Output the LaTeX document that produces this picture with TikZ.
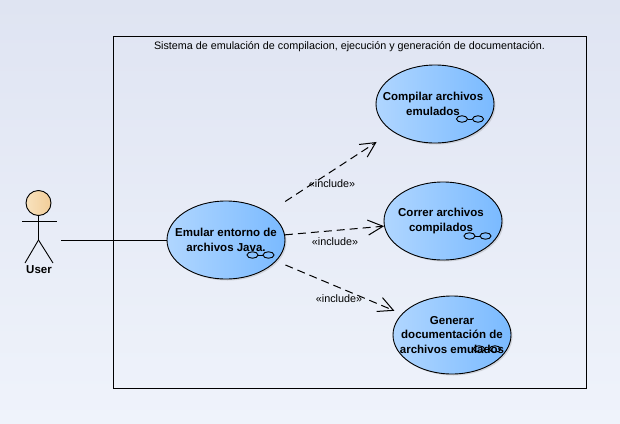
\documentclass[tikz,border=0pt]{standalone}
\usepackage{fontspec}
\setmainfont{Liberation Sans}
\usetikzlibrary{arrows.meta,positioning,shapes.geometric,shadows}

\definecolor{bgtop}{HTML}{DFE4F2}
\definecolor{bgbot}{HTML}{EFF3FB}
\definecolor{ucleft}{HTML}{B0D6FF}
\definecolor{ucmid}{HTML}{B8DBFF}
\definecolor{ucright}{HTML}{7ABAFF}
\definecolor{headleft}{HTML}{F8E2BE}
\definecolor{headright}{HTML}{F2CD98}

% small linked-ovals mark of a use case
\newcommand{\ucmark}[3]{%
  \node[markov] (#1a) at ([shift={(#2-8,#3)}]#1) {};
  \node[markov] (#1b) at ([shift={(#2+8,#3)}]#1) {};
  \draw[line width=0.9pt] (#1a) -- (#1b);
}

\begin{document}
\begin{tikzpicture}[x=1pt,y=-1pt,>={Straight Barb[length=15pt,width=15pt]},
  uc/.style={ellipse,draw,line width=0.9pt,minimum width=118pt,minimum height=78pt,inner sep=0pt,
    left color=ucleft,middle color=ucmid,right color=ucright,
    drop shadow={shadow xshift=1.5pt,shadow yshift=-1.5pt,opacity=0.25}},
  uctext/.style={align=center,inner sep=0pt,font=\fontsize{11.5}{14.6}\selectfont\bfseries},
  markov/.style={ellipse,draw,line width=0.9pt,minimum width=11pt,minimum height=6.5pt,inner sep=0pt},
  dep/.style={->,dashed,dash pattern=on 8pt off 5pt,line width=1pt},
  inc/.style={font=\fontsize{10.8}{12}\selectfont}]
  \useasboundingbox (0,0) rectangle (620,423);
  \shade[top color=bgtop,bottom color=bgbot] (0,0) rectangle (620,423);

  \node[draw,line width=0.9pt,minimum width=473pt,minimum height=352pt,inner sep=0pt] (sistema) at (349.5,212) {};
  \node[below=5.5pt of sistema.north,inner sep=0pt,font=\fontsize{10.77}{13}\selectfont] (titulo)
    {Sistema de emulación de compilacion, ejecución y generación de documentación.};

  \node[uc,label={[uctext]center:Emular entorno de\\archivos Java.}] (emular) at (226,240) {};
  \node[uc,label={[uctext,xshift=-2pt]center:Compilar archivos\\emulados}] (compilar) at (435,104) {};
  \node[uc,label={[uctext,xshift=-2pt]center:Correr archivos\\compilados}] (correr) at (443,221) {};
  \node[uc,label={[uctext]center:Generar\\documentación de\\archivos emulados}] (generar) at (452,335) {};
  \ucmark{emular}{34.5}{15}
  \ucmark{compilar}{35}{15}
  \ucmark{correr}{34.5}{15}
  \ucmark{generar}{35}{14}

  % actor
  \node[circle,draw,line width=0.9pt,minimum size=25pt,inner sep=0pt,left color=headleft,right color=headright] (head) at (38.5,203) {};
  \coordinate (hip) at (38.5,240);
  \draw[line width=0.9pt] (head) -- (hip);
  \draw[line width=0.9pt] (22,221) -- (57,221);
  \draw[line width=0.9pt] (hip) -- (25,263);
  \draw[line width=0.9pt] (hip) -- (53,263);
  \node[inner sep=0pt,font=\fontsize{11.5}{12}\selectfont\bfseries] (user) at (39,270) {User};

  \coordinate (assoc) at (61,240);
  \draw[line width=0.9pt] (assoc) -- (emular);

  \draw[dep,shorten <=20pt,shorten >=19pt] (emular) -- (compilar);
  \draw[dep] (emular) -- (correr);
  \draw[dep,shorten <=10pt,shorten >=8pt] (emular) -- (generar);
  \node[inc] (inc1) at (332,183.5) {«include»};
  \node[inc] (inc2) at (335,241.5) {«include»};
  \node[inc] (inc3) at (339,298.5) {«include»};
\end{tikzpicture}
\end{document}
